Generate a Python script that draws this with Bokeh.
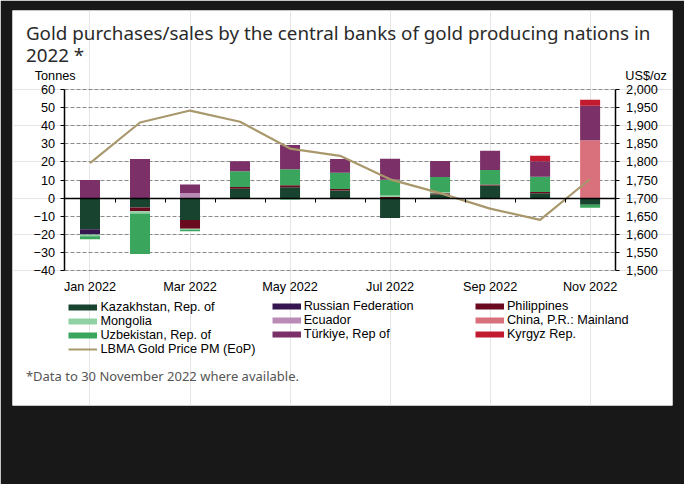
from bokeh.plotting import figure
from bokeh.models import (ColumnDataSource, Range1d, LinearAxis, FixedTicker, Grid,
                          NumeralTickFormatter, Legend, LegendItem, Label)
from bokeh.embed import file_html
from bokeh.resources import INLINE

# ---------------- data ----------------
months = ["Jan 2022", "Feb 2022", "Mar 2022", "Apr 2022", "May 2022", "Jun 2022",
          "Jul 2022", "Aug 2022", "Sep 2022", "Oct 2022", "Nov 2022"]
kazakhstan = [-17.2, -5.2, -12.1, 5.2, 6.0, 4.3, -11.0, 2.1, 7.0, 2.7, -3.7]
russia = [-2.9, 0, 0, 0, 0, 0, 0, 0, 0, 0, 0]
philippines = [0, -2.0, -4.8, 0.9, 1.1, 0.8, 0.7, 0.6, 0.5, 0.7, 0]
mongolia = [-1.0, -1.3, -0.6, 0, -1.0, 0, 0.8, 0.6, 0, 0, 0]
ecuador = [0, 0, 2.9, 0, 0, 0, 0, 0, 0, 0, 0]
china = [0, 0, 0, 0, 0, 0, 0, 0, 0, 0, 32.0]
uzbekistan = [-1.6, -22.3, -0.8, 8.8, 8.9, 8.9, 8.7, 8.4, 8.0, 8.4, -1.6]
turkiye = [10.0, 21.6, 4.6, 5.5, 13.4, 7.7, 11.6, 8.9, 10.7, 8.6, 19.1]
kyrgyz = [0, 0, 0, 0, 0, 0, 0, 0, 0, 3.0, 3.2]
gold_price = [1797, 1909, 1942, 1911, 1837, 1817, 1752, 1714, 1671, 1640, 1753]

series_names = ["Kazakhstan, Rep. of", "Russian Federation", "Philippines", "Mongolia", "Ecuador",
                "China, P.R.: Mainland", "Uzbekistan, Rep. of", "Türkiye, Rep of", "Kyrgyz Rep."]
series_values = [kazakhstan, russia, philippines, mongolia, ecuador, china, uzbekistan, turkiye, kyrgyz]
series_colors = ["#17432f", "#35164f", "#6a0a1f", "#8fd1a3", "#b98bb5",
                 "#d9717c", "#3aa55c", "#7b3068", "#c21a2e"]
line_name = "LBMA Gold Price PM (EoP)"
left_ticks = [-40, -30, -20, -10, 0, 10, 20, 30, 40, 50, 60]
right_ticks = [1500, 1550, 1600, 1650, 1700, 1750, 1800, 1850, 1900, 1950, 2000]

# ---------------- layout (reference pixels -> figure pixels) ----------------
W, H = 684, 484
SX, SY = W / 700, H / 500


def fx(X):
    return X * SX


def fy(Y):
    return Y * SY


BL, BR, BT, BB = round(fx(12)), round(W - fx(688)), round(fy(10)), round(H - fy(418))
FRAME_L, FRAME_R, FRAME_T, FRAME_B = BL, W - BR, BT, H - BB          # white card = plot frame
CH_L, CH_R, CH_T, CH_B = fx(66), fx(629), fy(92), fy(279)            # chart area in the card
AXIS_FONT = "Liberation Sans"
TEXT_FONT = "Noto Sans"
FS = "12.7px"

n = len(months)
lo, hi = left_ticks[0], left_ticks[-1]
pxu_x = (CH_R - CH_L) / n
pxu_y = (CH_B - CH_T) / (hi - lo)
x_start = -0.5 - (CH_L - FRAME_L) / pxu_x
x_end = n - 0.5 + (FRAME_R - CH_R) / pxu_x
y_end = hi + (CH_T - FRAME_T) / pxu_y
y_start = lo - (FRAME_B - CH_B) / pxu_y
p_per_t = (right_ticks[-1] - right_ticks[0]) / (hi - lo)


def to_price(t):
    return right_ticks[0] + (t - lo) * p_per_t


def xd(X):
    return x_start + (fx(X) - FRAME_L) / pxu_x


def yd(Y):
    return y_end - (fy(Y) - FRAME_T) / pxu_y


p = figure(width=W, height=H, output_backend="svg", toolbar_location=None,
           x_range=Range1d(x_start, x_end), y_range=Range1d(y_start, y_end),
           x_axis_location=None, y_axis_location=None,
           min_border_left=BL, min_border_right=BR, min_border_top=BT, min_border_bottom=BB,
           background_fill_color="white", border_fill_color="#181818", outline_line_color=None)
p.extra_y_ranges = {"price": Range1d(to_price(y_start), to_price(y_end))}

# horizontal dashed grid, limited to chart area
grid = Grid(dimension=1, ticker=FixedTicker(ticks=left_ticks), grid_line_color="#8a8a8a",
            grid_line_dash="4 2", grid_line_width=1, bounds=(lo, hi))
try:
    grid.cross_bounds = (-0.5, n - 0.5)
    p.add_layout(grid)
except Exception:
    p.segment(x0=[-0.5] * len(left_ticks), x1=[n - 0.5] * len(left_ticks), y0=left_ticks, y1=left_ticks,
              line_color="#8a8a8a", line_dash="4 2", line_width=1, level="underlay")


def style_axis(ax):
    ax.axis_line_color = "black"
    ax.axis_line_width = 1.5
    ax.major_tick_in = 0
    ax.major_tick_line_color = "black"
    ax.minor_tick_line_color = None
    ax.major_label_text_font = AXIS_FONT
    ax.major_label_text_font_size = FS
    ax.major_label_text_color = "black"


# left axis
ly = LinearAxis(fixed_location=-0.5, bounds=(lo, hi), ticker=FixedTicker(ticks=left_ticks))
style_axis(ly)
ly.major_tick_out = 4
ly.major_label_standoff = 6
p.add_layout(ly, "left")

# right axis
ry = LinearAxis(y_range_name="price", fixed_location=n - 0.5, bounds=(right_ticks[0], right_ticks[-1]),
                ticker=FixedTicker(ticks=right_ticks), formatter=NumeralTickFormatter(format="0,0"))
style_axis(ry)
ry.major_tick_out = 4
ry.major_label_standoff = 7
p.add_layout(ry, "right")

# bottom month labels
label_idx = list(range(0, n, 2))
bx = LinearAxis(fixed_location=lo, bounds=(-0.5, n - 0.5), ticker=FixedTicker(ticks=label_idx))
style_axis(bx)
bx.major_label_overrides = {i: months[i] for i in label_idx}
bx.axis_line_color = None
bx.major_tick_line_color = None
bx.major_tick_out = 0
bx.major_label_standoff = 9
p.add_layout(bx, "below")

# zero axis with ticks between categories
zx = LinearAxis(fixed_location=0, bounds=(-0.5, n - 0.5),
                ticker=FixedTicker(ticks=[i + 0.5 for i in range(n - 1)]))
style_axis(zx)
zx.major_tick_out = 4
zx.major_label_text_color = None
zx.major_label_text_font_size = "1px"
p.add_layout(zx, "below")

# stacked bars (positive values stack up, negative values stack down)
pos = [0.0] * n
neg = [0.0] * n
bar_renderers = []
for name, vals, color in zip(series_names, series_values, series_colors):
    bottoms, tops = [], []
    for i, v in enumerate(vals):
        if v >= 0:
            bottoms.append(pos[i]); tops.append(pos[i] + v); pos[i] += v
        else:
            tops.append(neg[i]); bottoms.append(neg[i] + v); neg[i] += v
    src = ColumnDataSource(dict(x=list(range(n)), bottom=bottoms, top=tops))
    bar_renderers.append(p.vbar(x="x", bottom="bottom", top="top", width=0.4, source=src,
                                fill_color=color, line_color=None))

line_color = "#a8986c"
price_line = p.line(x=list(range(n)), y=gold_price, y_range_name="price",
                    line_color=line_color, line_width=2.2)

# hidden line renderers used only as thin legend swatches
swatches = [p.line(x=list(range(n)), y=vals, line_color=color, line_width=6, line_cap="butt",
                   visible=False)
            for vals, color in zip(series_values, series_colors)]
line_swatch = p.line(x=list(range(n)), y=gold_price, y_range_name="price", line_color=line_color,
                     line_width=2, visible=False)

# legends (three columns)
ROW = 14.2
cols = [
    ([0, 3, 6], 70, True),
    ([1, 4, 7], 278, False),
    ([2, 5, 8], 486, False),
]
for idxs, X, with_line in cols:
    items = [LegendItem(label=series_names[i], renderers=[swatches[i]]) for i in idxs]
    if with_line:
        items.append(LegendItem(label=line_name, renderers=[line_swatch]))
    top = fy(316) - ROW / 2
    bottom = top + ROW * len(items)
    lg = Legend(items=items, location=(fx(X) - FRAME_L, FRAME_B - bottom), orientation="vertical",
                padding=0, margin=0, spacing=0, glyph_width=29, glyph_height=12,
                label_height=12, label_standoff=3, label_text_font=AXIS_FONT,
                label_text_font_size=FS, label_text_color="black",
                inactive_fill_alpha=0, background_fill_alpha=0, border_line_color=None)
    p.add_layout(lg)


# texts
def add_text(text, X, Y, size, color, font, align="left"):
    p.add_layout(Label(x=xd(X), y=yd(Y), text=text, text_font=font, text_font_size=size,
                       text_color=color, text_align=align, text_baseline="alphabetic"))


add_text("Gold purchases/sales by the central banks of gold producing nations  in", 26, 34, "18.8px", "#2a2a2a", TEXT_FONT)
add_text("2022 *", 26, 56, "18.8px", "#2a2a2a", TEXT_FONT)
add_text("Tonnes", 35, 78, FS, "black", AXIS_FONT)
add_text("US$/oz", 682, 78, FS, "black", AXIS_FONT, align="right")
add_text("*Data to 30 November 2022 where available.", 26, 388, "13px", "#555555", TEXT_FONT)

open("out.html", "w").write(file_html(p, INLINE))
